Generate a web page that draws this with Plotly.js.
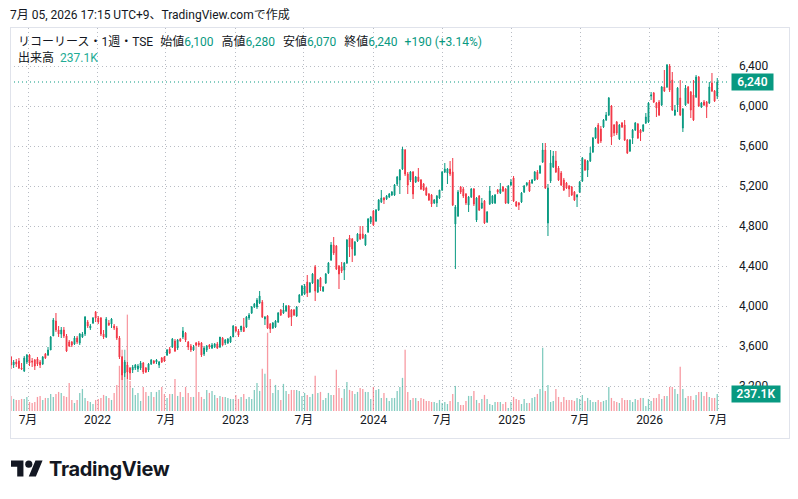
<!DOCTYPE html>
<html>
<head>
<meta charset="utf-8">
<script src="https://cdn.plot.ly/plotly-3.0.1.min.js"></script>
<style>
  body { margin:0; background:#fff; }
  #wrap { position:relative; width:798px; height:499px; overflow:hidden; background:#fff; }
  #chart { position:absolute; left:0; top:0; width:798px; height:499px; }
  .txt { position:absolute; white-space:nowrap; color:#131722; font-family: Roboto, "Noto Sans CJK JP", sans-serif; }
  .g { color:#089981; }
  .v { color:#22ab94; }
</style>
</head>
<body>
<div id="wrap">
  <div id="chart"></div>
  <div style="position:absolute;left:10px;top:27px;width:778px;height:410px;border:1px solid #e0e3eb;pointer-events:none"></div>
  <div class="txt" id="hdr" style="left:10px;top:7px;font-size:12px;line-height:16px"></div>
  <div class="txt" id="leg1" style="left:18px;top:34px;font-size:12px;line-height:16px"></div>
  <div class="txt" id="leg2" style="left:18px;top:50px;font-size:12px;line-height:16px"></div>
  <div style="position:absolute;left:11px;top:457px;">
    <svg width="32" height="25" viewBox="0 0 36 28"><path fill="#131722" d="M14 22H7V11H0V4h14v18zM28 22h-8l7.5-18h8L28 22z"/><circle fill="#131722" cx="20" cy="8" r="4"/></svg>
  </div>
  <div class="txt" style="left:49px;top:456px;font-family:Inter, Roboto, sans-serif;font-weight:700;font-size:20px;line-height:26px;letter-spacing:-0.3px">TradingView</div>
</div>
<script>
// ---- data (weekly candles, Ricoh Leasing, TSE) ----
const startWeek = '2021-05-17';
const tickDates = ['2021-07-01','2022-01-01','2022-07-01','2023-01-01','2023-07-01','2024-01-01','2024-07-01','2025-01-01','2025-07-01','2026-01-01','2026-07-01'];
const tickLabels = ['7月','2022','7月','2023','7月','2024','7月','2025','7月','2026','7月'];

const opens = [
3490,3410,3440,3450,3380,3350,3440,3510,3450,3460,
3470,3440,3420,3520,3510,3560,3700,3850,3760,3720,
3760,3700,3640,3640,3620,3680,3630,3690,3720,3840,
3780,3830,3940,3880,3880,3720,3690,3830,3820,3800,
3780,3680,3490,3330,3410,3380,3360,3380,3370,3380,
3430,3380,3360,3420,3450,3440,3410,3480,3490,3510,
3570,3590,3650,3580,3670,3690,3730,3640,3600,3560,
3630,3630,3630,3520,3560,3610,3580,3590,3620,3590,
3680,3630,3630,3640,3690,3790,3750,3760,3790,3790,
3880,3930,3990,3990,4030,4040,3870,3900,3820,3780,
3790,3840,3960,3930,3950,4000,3960,3960,3900,4040,
4110,4120,4240,4140,4230,4390,4140,4280,4150,4230,
4330,4460,4610,4600,4400,4390,4360,4430,4680,4670,
4510,4650,4720,4720,4610,4740,4840,4950,4850,4960,
5040,5080,5070,5090,5110,5110,5220,5260,5370,5560,
5320,5260,5340,5240,5290,5260,5220,5180,5120,5110,
5030,5030,5080,5160,5340,5330,5370,5340,4820,4900,
5190,5170,5120,5010,5090,5170,4860,5100,4980,5050,
4840,5020,5030,5030,5160,5130,5190,5170,5030,5210,
5280,5040,5030,5040,5140,5210,5240,5230,5260,5340,
5330,5440,5560,4830,5250,5390,5450,5380,5330,5260,
5230,5200,5190,5140,5090,5140,5250,5460,5360,5450,
5540,5680,5810,5770,5790,5860,5910,6000,5810,5840,
5670,5830,5810,5660,5550,5680,5760,5820,5760,5750,
5830,5840,6100,6130,6030,6040,6010,6190,6190,6400,
6260,5910,6010,6080,5780,6010,6190,6140,6110,6090,
6290,5990,6040,6040,6030,6230,6150,6100];

const highs = [
3500,3460,3470,3480,3430,3500,3520,3520,3480,3470,
3490,3460,3500,3530,3590,3700,3880,3930,3800,3790,
3790,3720,3660,3650,3700,3700,3730,3740,3900,3860,
3820,3890,3950,3900,3890,3760,3890,3860,3880,3820,
3800,3700,3500,3460,3440,3390,3410,3420,3420,3450,
3440,3390,3430,3470,3460,3470,3450,3490,3500,3570,
3590,3680,3670,3670,3680,3790,3740,3650,3620,3610,
3640,3650,3640,3600,3610,3620,3630,3630,3640,3690,
3690,3670,3680,3700,3810,3800,3770,3800,3880,3900,
3930,4000,4030,4080,4150,4060,3900,3910,3830,3840,
3860,3940,3970,4030,4010,4010,3970,3970,4000,4120,
4210,4220,4310,4240,4330,4410,4270,4290,4200,4330,
4440,4640,4690,4610,4410,4440,4440,4670,4710,4680,
4650,4730,4800,4800,4720,4880,4900,4960,4970,5070,
5160,5090,5110,5130,5150,5220,5300,5370,5590,5570,
5340,5350,5350,5300,5380,5270,5230,5190,5130,5120,
5070,5110,5160,5350,5430,5380,5450,5480,5010,5160,
5200,5190,5130,5100,5180,5180,5090,5110,5080,5060,
4950,5200,5110,5120,5170,5230,5200,5180,5210,5270,
5300,5050,5040,5140,5210,5240,5260,5270,5350,5360,
5410,5630,5630,5220,5560,5550,5550,5400,5350,5280,
5240,5210,5200,5150,5120,5250,5490,5470,5460,5590,
5690,5790,5830,5800,5870,5940,6090,6010,5820,5850,
5820,5840,5860,5670,5670,5770,5840,5830,5770,5820,
5930,6040,6140,6140,6040,6060,6200,6360,6420,6420,
6340,6010,6190,6260,5980,6210,6200,6150,6260,6310,
6300,6040,6060,6050,6240,6330,6160,6280];

const lows = [
3370,3380,3390,3370,3360,3340,3420,3400,3390,3360,
3400,3380,3410,3470,3500,3560,3700,3740,3690,3680,
3680,3540,3590,3590,3610,3620,3610,3680,3700,3780,
3760,3820,3840,3820,3700,3670,3680,3800,3780,3760,
3660,3470,3260,3290,3270,3260,3330,3360,3340,3360,
3320,3330,3340,3410,3420,3420,3380,3430,3440,3500,
3520,3580,3540,3560,3640,3670,3640,3560,3540,3550,
3600,3590,3490,3500,3540,3570,3570,3580,3570,3580,
3600,3610,3620,3630,3690,3740,3690,3740,3740,3780,
3860,3920,3980,3970,4020,3880,3810,3770,3730,3770,
3780,3830,3900,3920,3940,3880,3800,3900,3890,4030,
4100,4110,4090,4130,4220,4050,4130,4150,4140,4220,
4320,4450,4510,4360,4170,4330,4260,4420,4490,4440,
4500,4640,4660,4670,4600,4730,4820,4800,4840,4950,
5030,5020,5060,5080,5100,5100,5200,5120,5360,5300,
5120,5240,5070,5230,5240,5160,5150,5100,5050,4990,
5020,4990,5070,5150,5330,5220,5300,5000,4370,4890,
5120,5080,5010,4940,5080,5000,4840,4950,4970,4820,
4830,5010,5020,5020,5120,5120,5140,5020,5020,5200,
5040,4990,4960,5030,5130,5200,5140,5220,5250,5260,
5320,5430,5170,4700,5230,5380,5330,5250,5200,5150,
5170,5090,5100,5050,4990,5130,5240,5350,5290,5440,
5530,5670,5620,5630,5780,5850,5900,5610,5700,5710,
5660,5780,5650,5520,5540,5620,5750,5670,5650,5740,
5820,5830,6060,6030,5890,5900,6000,6140,6180,6140,
5950,5900,5940,5900,5740,6000,6020,5880,5850,6080,
5990,5980,6000,5880,6020,6140,6040,6070];

const closes = [
3410,3440,3420,3380,3370,3480,3510,3430,3440,3400,
3420,3410,3490,3480,3560,3690,3860,3760,3720,3760,
3700,3550,3600,3610,3680,3640,3720,3720,3890,3800,
3800,3880,3880,3840,3720,3690,3870,3810,3870,3780,
3680,3490,3310,3440,3340,3330,3390,3410,3400,3430,
3340,3340,3420,3460,3430,3460,3440,3440,3450,3560,
3530,3670,3550,3660,3650,3750,3660,3590,3560,3590,
3610,3610,3510,3580,3600,3590,3610,3620,3580,3690,
3610,3660,3670,3690,3800,3750,3710,3800,3745,3890,
3910,3990,4020,4060,4100,3890,3890,3780,3770,3830,
3850,3930,3910,3960,4000,3890,3890,3910,3990,4110,
4200,4200,4130,4230,4320,4150,4260,4190,4190,4320,
4430,4610,4530,4370,4320,4350,4430,4660,4590,4570,
4640,4720,4670,4680,4710,4870,4890,4810,4960,5060,
5080,5060,5100,5120,5140,5210,5290,5360,5570,5320,
5210,5340,5120,5290,5250,5170,5160,5110,5060,5020,
5060,5100,5160,5340,5370,5370,5320,5010,4990,5140,
5140,5100,5030,5090,5170,5020,5080,4960,5030,4830,
4940,5150,5100,5110,5140,5170,5150,5030,5200,5240,
5050,5000,5010,5130,5200,5230,5150,5260,5340,5270,
5400,5560,5180,5180,5430,5500,5340,5260,5210,5160,
5180,5170,5110,5060,5110,5240,5480,5360,5450,5530,
5680,5780,5630,5650,5860,5910,6080,5690,5730,5730,
5810,5790,5660,5530,5660,5760,5830,5680,5730,5810,
5890,6030,6110,6040,5980,5910,6190,6150,6410,6160,
5960,5960,6180,5910,5970,6180,6030,5960,5860,6290,
6000,6030,6010,5990,6190,6150,6050,6240];

// volume in thousands of shares
const volumesK = [
210,168,154,154,168,168,196,126,112,126,
196,210,154,182,182,238,196,238,266,252,
210,196,392,154,112,154,252,308,182,140,
126,98,154,168,182,224,210,182,154,252,
364,630,854,854,1344,420,322,224,252,140,
336,266,210,266,196,266,294,336,238,182,
238,238,448,210,266,196,336,252,196,196,
952,266,196,168,294,252,280,224,182,210,
196,196,182,168,168,224,168,196,238,168,
196,168,294,392,280,588,518,1092,448,252,
364,294,154,378,280,238,294,294,294,280,
210,252,224,196,238,490,252,266,154,182,
252,224,224,574,322,182,308,406,294,280,
238,266,322,308,266,266,168,336,294,308,
182,252,182,140,182,182,280,336,462,854,
266,154,182,182,140,182,168,140,140,126,
126,112,154,112,126,98,140,238,350,126,
84,84,140,210,210,280,154,112,168,224,
168,98,84,126,126,126,98,126,42,126,
196,168,154,98,168,112,112,182,196,238,
308,882,280,364,126,140,308,196,126,196,
154,154,154,140,182,168,224,140,182,154,
126,126,154,126,140,154,336,182,140,126,
112,182,154,154,154,126,168,154,182,182,
70,168,140,182,182,238,168,210,210,336,
336,308,238,616,308,182,210,210,154,224,
266,266,210,266,196,182,182,237.1];

// ---- build ----
const G = '#089981', R = '#F23645';
const GV = 'rgba(8,153,129,0.5)', RV = 'rgba(242,54,69,0.5)';
const N = closes.length;
const dates = [];
const t0 = Date.parse(startWeek + 'T00:00:00Z');
for (let i = 0; i < N; i++) dates.push(new Date(t0 + i * 7 * 86400000).toISOString().slice(0, 10));
const volColors = closes.map((c, i) => c >= opens[i] ? GV : RV);

const fmt = v => v.toLocaleString('en-US');
const last = N - 1;
const chg = closes[last] - closes[last - 1];
const pct = chg / closes[last - 1] * 100;

document.getElementById('hdr').textContent = '7月 05, 2026 17:15 UTC+9、TradingView.comで作成';
document.getElementById('leg1').innerHTML =
  'リコーリース・1週・TSE' +
  '<span style="margin-left:7px">始値</span><span class="g">' + fmt(opens[last]) + '</span>' +
  '<span style="margin-left:8px">高値</span><span class="g">' + fmt(highs[last]) + '</span>' +
  '<span style="margin-left:8px">安値</span><span class="g">' + fmt(lows[last]) + '</span>' +
  '<span style="margin-left:8px">終値</span><span class="g">' + fmt(closes[last]) + '</span>' +
  '<span class="g" style="margin-left:7px">' + (chg >= 0 ? '+' : '') + chg + ' (' + (chg >= 0 ? '+' : '') + pct.toFixed(2) + '%)</span>';
document.getElementById('leg2').innerHTML = '出来高<span class="v" style="margin-left:6px">' + volumesK[last].toFixed(1) + 'K</span>';

const traces = [
  { type:'bar', x:dates, y:volumesK, yaxis:'y2', marker:{color:volColors, line:{width:0}},
    width: 3.4 * 86400000, hoverinfo:'skip', showlegend:false },
  { type:'candlestick', x:dates, open:opens, high:highs, low:lows, close:closes,
    increasing:{line:{color:G, width:1}, fillcolor:G},
    decreasing:{line:{color:R, width:1}, fillcolor:R},
    whiskerwidth:0, hoverinfo:'skip', showlegend:false }
];

const gridCol = '#b8bcc4';
const gridDash = '1px,3px';
const layout = {
  width:798, height:499,
  margin:{l:10, r:68, t:28, b:88, pad:0},
  paper_bgcolor:'rgba(0,0,0,0)', plot_bgcolor:'rgba(0,0,0,0)',
  showlegend:false, hovermode:false, boxgap:0.55,
  font:{family:'Roboto, sans-serif', size:12, color:'#131722'},
  xaxis:{
    type:'date', range:['2021-05-14 09:00','2026-08-01 18:00'],
    rangeslider:{visible:false},
    tickmode:'array', tickvals:tickDates, ticktext:tickLabels,
    showgrid:true, gridcolor:gridCol, griddash:gridDash, gridwidth:1,
    ticks:'', showline:false, zeroline:false,
    tickfont:{family:'Roboto, "Noto Sans CJK JP", sans-serif', size:12, color:'#131722'}
  },
  yaxis:{
    side:'right', range:[2950, 6780], tick0:0, dtick:400, tickformat:',d',
    showgrid:true, gridcolor:gridCol, griddash:gridDash, gridwidth:1,
    ticks:'', showline:false, zeroline:false, ticklabelstandoff:8,
    tickfont:{family:'Roboto, sans-serif', size:12, color:'#131722'}
  },
  yaxis2:{ overlaying:'y', range:[0, 237.1 * 383 / 17], visible:false, showgrid:false, zeroline:false },
  shapes:[
    { type:'line', xref:'paper', x0:0, x1:1, yref:'y', y0:closes[last], y1:closes[last],
      line:{color:G, width:1, dash:'1px,3px'} }
  ],
  annotations:[
    { xref:'paper', x:1, xanchor:'left', xshift:1, yref:'y', y:closes[last], yanchor:'middle',
      text:fmt(closes[last]), showarrow:false, bgcolor:G, borderpad:2, width:37, height:12,
      font:{family:'Roboto, sans-serif', size:12, color:'#ffffff', weight:600} },
    { xref:'paper', x:1, xanchor:'left', xshift:1, yref:'y2', y:volumesK[last], yanchor:'middle',
      text:volumesK[last].toFixed(1) + 'K', showarrow:false, bgcolor:G, borderpad:2, width:44, height:12,
      font:{family:'Roboto, sans-serif', size:12, color:'#ffffff', weight:600} }
  ]
};

Plotly.newPlot('chart', traces, layout, {staticPlot:true, displayModeBar:false});
</script>
</body>
</html>
